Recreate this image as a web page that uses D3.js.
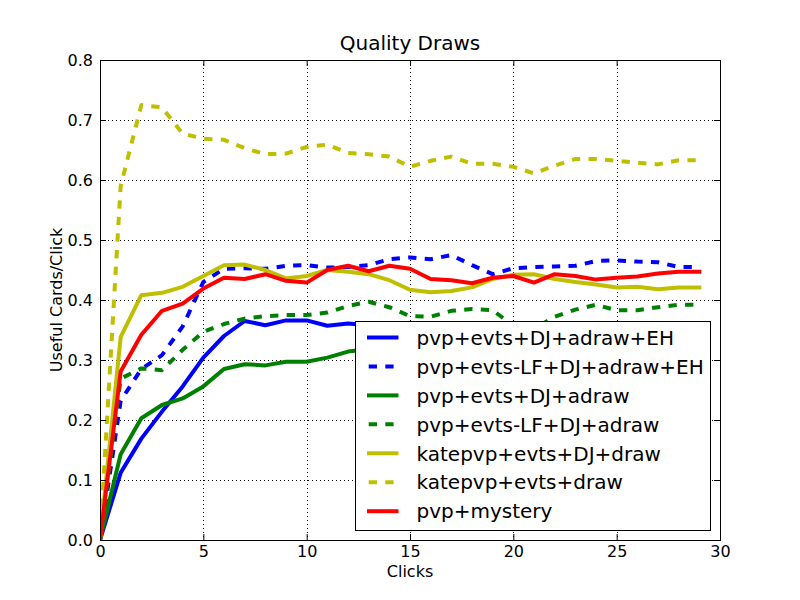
<!DOCTYPE html>
<html>
<head>
<meta charset="utf-8">
<script src="https://cdn.jsdelivr.net/npm/d3@7"></script>
<style>
  html, body { margin: 0; padding: 0; background: #ffffff; }
  svg { display: block; font-family: "DejaVu Sans", sans-serif; }
</style>
</head>
<body>
<svg id="chart" width="800" height="600"></svg>
<script>
// ---- Data ----
const clicks = d3.range(0, 30);
const seriesNames = [
  "pvp+evts+DJ+adraw+EH",
  "pvp+evts-LF+DJ+adraw+EH",
  "pvp+evts+DJ+adraw",
  "pvp+evts-LF+DJ+adraw",
  "katepvp+evts+DJ+draw",
  "katepvp+evts+draw",
  "pvp+mystery"
];
const blueSolid = [0, 0.112, 0.169, 0.214, 0.256, 0.304, 0.340, 0.365, 0.358, 0.366, 0.366, 0.357, 0.361, 0.358, 0.356, 0.357, 0.355, 0.356, 0.357, 0.355, 0.356, 0.357, 0.356, 0.358, 0.357, 0.356, 0.357, 0.358, 0.357, 0.357];
const blueDashed = [0, 0.232, 0.285, 0.308, 0.356, 0.430, 0.452, 0.453, 0.452, 0.457, 0.458, 0.454, 0.455, 0.458, 0.468, 0.471, 0.468, 0.475, 0.458, 0.443, 0.453, 0.455, 0.456, 0.457, 0.465, 0.466, 0.464, 0.463, 0.455, 0.455];
const greenSolid = [0, 0.143, 0.203, 0.225, 0.236, 0.256, 0.285, 0.293, 0.291, 0.297, 0.297, 0.304, 0.314, 0.318, 0.321, 0.323, 0.325, 0.326, 0.328, 0.329, 0.330, 0.331, 0.330, 0.332, 0.333, 0.332, 0.334, 0.334, 0.335, 0.335];
const greenDashed = [0, 0.269, 0.286, 0.283, 0.317, 0.347, 0.360, 0.369, 0.373, 0.375, 0.375, 0.379, 0.390, 0.397, 0.388, 0.373, 0.372, 0.382, 0.385, 0.383, 0.357, 0.352, 0.372, 0.384, 0.392, 0.383, 0.383, 0.388, 0.392, 0.392];
const yellowSolid = [0, 0.338, 0.408, 0.412, 0.422, 0.440, 0.458, 0.459, 0.450, 0.436, 0.440, 0.450, 0.447, 0.443, 0.433, 0.417, 0.413, 0.415, 0.421, 0.435, 0.442, 0.443, 0.435, 0.430, 0.426, 0.421, 0.422, 0.418, 0.421, 0.421];
const yellowDashed = [0, 0.590, 0.725, 0.721, 0.677, 0.669, 0.667, 0.653, 0.643, 0.644, 0.655, 0.659, 0.645, 0.643, 0.639, 0.622, 0.632, 0.639, 0.627, 0.627, 0.622, 0.611, 0.624, 0.635, 0.635, 0.632, 0.629, 0.626, 0.633, 0.633];
const redSolid = [0, 0.281, 0.342, 0.382, 0.394, 0.419, 0.437, 0.435, 0.443, 0.432, 0.429, 0.450, 0.457, 0.448, 0.457, 0.452, 0.435, 0.433, 0.428, 0.437, 0.440, 0.429, 0.443, 0.440, 0.434, 0.437, 0.439, 0.444, 0.447, 0.447];
const xTicks = [0, 5, 10, 15, 20, 25, 30];
const yTicks = [0.0, 0.1, 0.2, 0.3, 0.4, 0.5, 0.6, 0.7, 0.8];
const title = "Quality Draws";
const xLabel = "Clicks";
const yLabel = "Useful Cards/Click";

const seriesValues = [blueSolid, blueDashed, greenSolid, greenDashed, yellowSolid, yellowDashed, redSolid];
const seriesColors = ["#0000ff", "#0000ff", "#008000", "#008000", "#bfbf00", "#bfbf00", "#ff0000"];
const seriesDashed = [false, true, false, true, false, true, false];

// ---- Layout ----
const svg = d3.select("#chart");
const W = 800, H = 600;
const m = { left: 100, right: 80, top: 60, bottom: 60 };
const pw = W - m.left - m.right, ph = H - m.top - m.bottom;

svg.append("rect").attr("width", W).attr("height", H).attr("fill", "#ffffff");

const x = d3.scaleLinear().domain([0, 30]).range([m.left, m.left + pw]);
const y = d3.scaleLinear().domain([0, 0.8]).range([m.top + ph, m.top]);

// background of axes
svg.append("rect").attr("x", m.left).attr("y", m.top).attr("width", pw).attr("height", ph).attr("fill", "#ffffff");

// grid
const grid = svg.append("g").attr("stroke", "#000").attr("stroke-width", 1).attr("stroke-dasharray", "1,3");
xTicks.slice(1, -1).forEach(t => {
  grid.append("line").attr("x1", Math.round(x(t)) + 0.5).attr("x2", Math.round(x(t)) + 0.5)
    .attr("y1", m.top).attr("y2", m.top + ph);
});
yTicks.slice(1, -1).forEach(t => {
  grid.append("line").attr("y1", Math.round(y(t)) + 0.5).attr("y2", Math.round(y(t)) + 0.5)
    .attr("x1", m.left).attr("x2", m.left + pw);
});

// clip
svg.append("defs").append("clipPath").attr("id", "clip")
  .append("rect").attr("x", m.left).attr("y", m.top).attr("width", pw).attr("height", ph);

const line = d3.line().x((d, i) => x(clicks[i])).y(d => y(d));
const linesG = svg.append("g").attr("clip-path", "url(#clip)");
seriesValues.forEach((vals, k) => {
  linesG.append("path")
    .datum(vals)
    .attr("d", line)
    .attr("fill", "none")
    .attr("stroke", seriesColors[k])
    .attr("stroke-width", 4)
    .attr("stroke-linejoin", "round")
    .attr("stroke-linecap", seriesDashed[k] ? "butt" : "square")
    .attr("stroke-dasharray", seriesDashed[k] ? "8.3,8.3" : null);
});

// axes (ticks pointing inward on all four sides)
const fmt = d3.format(".1f");
const axB = d3.axisBottom(x).tickValues(xTicks).tickFormat(d3.format("d")).tickSizeInner(-6).tickSizeOuter(0).tickPadding(6);
const axT = d3.axisTop(x).tickValues(xTicks).tickFormat("").tickSizeInner(-6).tickSizeOuter(0);
const axL = d3.axisLeft(y).tickValues(yTicks).tickFormat(fmt).tickSizeInner(-6).tickSizeOuter(0).tickPadding(7);
const axR = d3.axisRight(y).tickValues(yTicks).tickFormat("").tickSizeInner(-6).tickSizeOuter(0);

function styleAxis(g) {
  g.select(".domain").remove();
  g.selectAll("line").attr("stroke", "#000").attr("stroke-width", 1);
  g.selectAll("text").attr("fill", "#000").attr("font-size", 16).attr("font-family", "DejaVu Sans, sans-serif");
}
svg.append("g").attr("transform", `translate(0,${m.top + ph})`).call(axB).call(styleAxis);
svg.append("g").attr("transform", `translate(0,${m.top})`).call(axT).call(styleAxis);
svg.append("g").attr("transform", `translate(${m.left},0)`).call(axL).call(styleAxis);
svg.append("g").attr("transform", `translate(${m.left + pw},0)`).call(axR).call(styleAxis);

// frame
svg.append("rect").attr("x", m.left + 0.5).attr("y", m.top + 0.5).attr("width", pw).attr("height", ph)
  .attr("fill", "none").attr("stroke", "#000").attr("stroke-width", 1);

// title and labels
svg.append("text").attr("x", m.left + pw / 2).attr("y", 50).attr("text-anchor", "middle")
  .attr("font-size", 20).attr("fill", "#000").text(title);
svg.append("text").attr("x", m.left + pw / 2).attr("y", 577).attr("text-anchor", "middle")
  .attr("font-size", 16).attr("fill", "#000").text(xLabel);
svg.append("text").attr("transform", `translate(62,${m.top + ph / 2}) rotate(-90)`).attr("text-anchor", "middle")
  .attr("font-size", 16).attr("fill", "#000").text(yLabel);

// legend
const lg = svg.append("g");
const lx0 = 355, ly0 = 321, lw = 355, lh = 209;
lg.append("rect").attr("x", lx0 + 0.5).attr("y", ly0 + 0.5).attr("width", lw).attr("height", lh)
  .attr("fill", "#ffffff").attr("stroke", "#000").attr("stroke-width", 1);
seriesNames.forEach((name, k) => {
  const ry = ly0 + 16.5 + k * 28.95;
  lg.append("line").attr("x1", 367).attr("x2", 398.5).attr("y1", ry).attr("y2", ry)
    .attr("stroke", seriesColors[k]).attr("stroke-width", 4)
    .attr("stroke-dasharray", seriesDashed[k] ? "8.3,8.3" : null)
    .attr("stroke-dashoffset", seriesDashed[k] ? -1.7 : null);
  lg.append("text").attr("x", 416.5).attr("y", ry).attr("dy", "0.36em")
    .attr("font-size", 20).attr("fill", "#000").text(name);
});
</script>
</body>
</html>
